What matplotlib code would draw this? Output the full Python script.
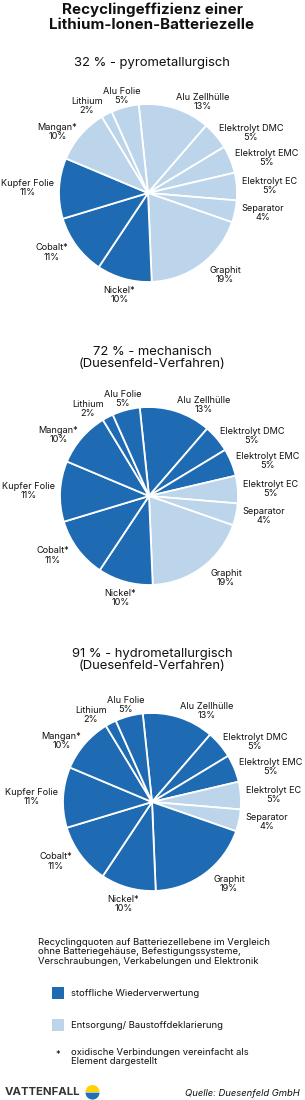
import numpy as np
import matplotlib
matplotlib.use("Agg")
import matplotlib.pyplot as plt
from matplotlib.patches import Wedge, Rectangle

plt.rcParams['font.family'] = ['Inter', 'DejaVu Sans']

# ---------------- data ----------------
components = ["Alu Zellhülle", "Elektrolyt DMC", "Elektrolyt EMC", "Elektrolyt EC",
              "Separator", "Graphit", "Nickel*", "Cobalt*", "Kupfer Folie",
              "Mangan*", "Lithium", "Alu Folie"]
shares = [13, 5, 5, 5, 4, 19, 10, 11, 11, 10, 2, 5]

# 1 = stoffliche Wiederverwertung, 0 = Entsorgung/ Baustoffdeklarierung
recycled_pyro = [0, 0, 0, 0, 0, 0, 1, 1, 1, 0, 0, 0]
recycled_mech = [1, 1, 1, 0, 0, 0, 1, 1, 1, 1, 1, 1]
recycled_hydro = [1, 1, 1, 0, 0, 1, 1, 1, 1, 1, 1, 1]

titles = ["32 % - pyrometallurgisch",
          "72 % - mechanisch\n(Duesenfeld-Verfahren)",
          "91 % - hydrometallurgisch\n(Duesenfeld-Verfahren)"]

# ---------------- layout ----------------
label_dist = [1.07, 1.04, 1.05, 1.06, 1.07, 1.15, 1.19, 1.12, 1.06, 1.05, 1.10, 1.13]
label_ha = ["left", "left", "left", "left", "left", "left", "center", "right",
            "right", "right", "right", "center"]

DARK = "#1f6bb3"
LIGHT = "#bcd5ea"
W, H = 305, 1100
fig = plt.figure(figsize=(W / 100, H / 100), dpi=100)
bg = fig.add_axes([0, 0, 1, 1])
bg.set_xlim(0, W)
bg.set_ylim(H, 0)
bg.axis("off")

LBL = 6.6
TXT = "#111111"

bg.text(152, 17, "Recyclingeffizienz einer\nLithium-Ionen-Batteriezelle",
        ha="center", va="center", fontsize=10.9, fontweight="bold",
        linespacing=1.12, color=TXT)


def draw_pie(cx, cy, r, flags, title, title_y, start):
    ax = fig.add_axes([(cx - r) / W, 1 - (cy + r) / H, 2 * r / W, 2 * r / H])
    colors = [DARK if f else LIGHT for f in flags]
    wedges, _ = ax.pie(shares, colors=colors, startangle=start, counterclock=False,
                       wedgeprops=dict(edgecolor="white", linewidth=1.3),
                       radius=1.0)
    ax.set_xlim(-1, 1)
    ax.set_ylim(-1, 1)
    ax.set_aspect("equal")
    ax.axis("off")
    for w, name, val, d, ha in zip(wedges, components, shares, label_dist, label_ha):
        th = np.deg2rad((w.theta1 + w.theta2) / 2)
        px = cx + np.cos(th) * r * d
        py = cy - np.sin(th) * r * d
        bg.text(px, py, f"{name}\n{val}%", ha=ha, va="center",
                multialignment="center", fontsize=LBL, linespacing=1.05,
                color=TXT)
    bg.text(152, title_y, title, ha="center", va="center", fontsize=9.4,
            linespacing=1.1, color=TXT)


draw_pie(148, 193, 89, recycled_pyro, titles[0], 63, 96)
draw_pie(149, 496, 89, recycled_mech, titles[1], 358, 96)
draw_pie(152, 802, 89, recycled_hydro, titles[2], 660, 96)

# footnote
bg.text(38, 952, "Recyclingquoten auf Batteriezellebene im Vergleich\n"
        "ohne Batteriegehäuse, Befestigungssysteme,\n"
        "Verschraubungen, Verkabelungen und Elektronik",
        ha="left", va="center", fontsize=6.8, linespacing=1.1, color=TXT)

# legend
bg.add_patch(Rectangle((52, 987), 12, 12, facecolor=DARK, edgecolor="none"))
bg.text(71, 993, "stoffliche Wiederverwertung", ha="left", va="center",
        fontsize=6.8, color=TXT)
bg.add_patch(Rectangle((52, 1019), 12, 12, facecolor=LIGHT, edgecolor="none"))
bg.text(71, 1025, "Entsorgung/ Baustoffdeklarierung", ha="left", va="center",
        fontsize=6.8, color=TXT)
bg.text(58, 1054, "*", ha="center", va="center", fontsize=6.5, color=TXT)
bg.text(71, 1057, "oxidische Verbindungen vereinfacht als\nElement dargestellt",
        ha="left", va="center", fontsize=6.8, linespacing=1.1, color=TXT)

# logo (y axis inverted: angles 180..360 are the upper half on screen)
bg.text(5, 1092, "VATTENFALL", ha="left", va="center", fontsize=8.2,
        fontweight="bold", color="#333333")
bg.add_patch(Wedge((92.5, 1092), 7, 180, 360, facecolor="#ffd200", edgecolor="none"))
bg.add_patch(Wedge((92.5, 1092.6), 7, 0, 180, facecolor="#2071b5", edgecolor="none"))
bg.text(300, 1093, "Quelle: Duesenfeld GmbH", ha="right", va="center",
        fontsize=6.8, style="italic", color=TXT)

fig.savefig("out.png", dpi=100, facecolor="white")
